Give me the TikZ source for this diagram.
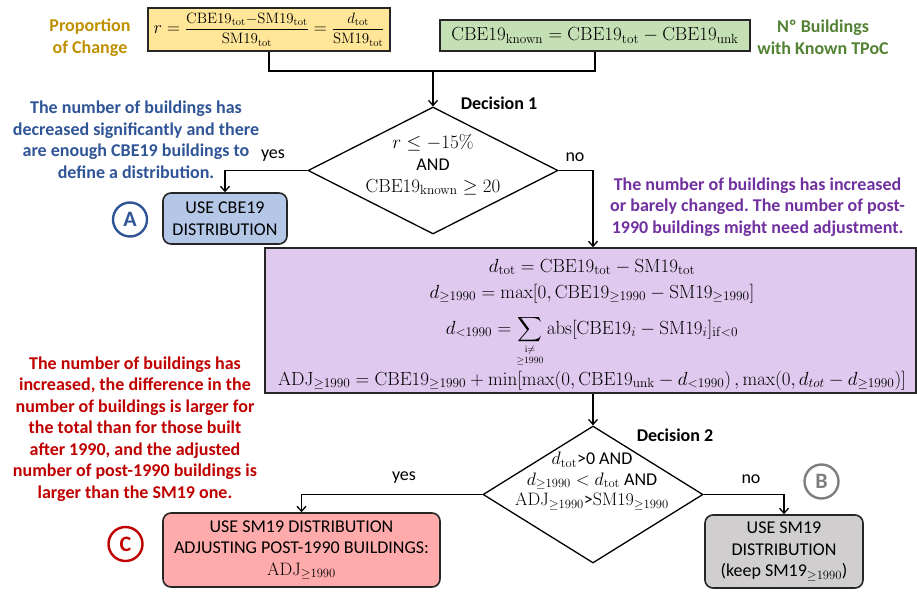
\RequirePackage{fix-cm}
\documentclass[tikz,border=0pt]{standalone}
\usepackage{amsmath}
\usepackage[no-math]{fontspec}
\setmainfont{Carlito}
\usetikzlibrary{shapes.geometric,arrows.meta}
\frenchspacing

\definecolor{boxline}{HTML}{262626}
\definecolor{goldtxt}{HTML}{BF9000}
\definecolor{ylwfill}{HTML}{FFE699}
\definecolor{grnfill}{HTML}{C5E0B4}
\definecolor{grntxt}{HTML}{548235}
\definecolor{bluefill}{HTML}{B4C7E7}
\definecolor{bluetxt}{HTML}{2F5597}
\definecolor{purpfill}{HTML}{DFC9EE}
\definecolor{purptxt}{HTML}{7030A0}
\definecolor{redfill}{HTML}{FFABAB}
\definecolor{redtxt}{HTML}{C00000}
\definecolor{greyfill}{HTML}{D0CECE}
\definecolor{greyring}{HTML}{7F7F7F}

% fraction set in display style at a reduced size
\newcommand{\smallfrac}[2]{\text{\fontsize{15}{17}\selectfont$\dfrac{#1}{#2}$}}

\begin{document}
\begin{tikzpicture}[x=1pt,y=-1pt,
  every node/.style={font=\fontsize{18}{21.5}\selectfont, inner sep=0pt},
  mathline/.style={font=\fontsize{19}{22}\selectfont},
  eqbox/.style={draw=boxline, line width=1.6pt, rectangle},
  outbox/.style={draw=boxline, line width=1.6pt, rounded corners=8pt, align=center},
  decision/.style={diamond, draw=black, line width=1.3pt, fill=white},
  ring/.style={circle, line width=2.4pt, minimum size=34pt, font=\fontsize{22}{24}\selectfont\bfseries},
  note/.style={align=center, font=\fontsize{18}{21.5}\selectfont\bfseries},
  flow/.style={line width=1.3pt, draw=black},
  flowarrow/.style={flow, -{Straight Barb[length=5pt,width=9pt]}},
]
\useasboundingbox (0,0) rectangle (917,591);

% ---- input quantities ----
\node[eqbox, fill=ylwfill, minimum width=242pt, minimum height=43pt] (rbox) at (269,29.5)
  {$r=\smallfrac{\mathrm{CBE19_{tot}}{-}\mathrm{SM19_{tot}}}{\mathrm{SM19_{tot}}}=\smallfrac{d_{\mathrm{tot}}}{\mathrm{SM19_{tot}}}$};
\node[eqbox, mathline, fill=grnfill, minimum width=310pt, minimum height=31pt] (kbox) at (595,35.5)
  {$\mathrm{CBE19_{known}}=\mathrm{CBE19_{tot}}-\mathrm{CBE19_{unk}}$};
\node[note, text=goldtxt] (rlabel) at (90,37.5) {Proportion\\of Change};
\node[note, text=grntxt] (klabel) at (823,37.5) {Nº Buildings\\with Known TPoC};

% ---- decision 1 ----
\node[decision, minimum width=250pt, minimum height=127pt] (d1) at (433,170.5) {};
\node[mathline] (d1a) at (433,143) {$r\leq-15\%$};
\node (d1b) at (433,165) {AND};
\node[mathline] (d1c) at (433,187) {$\mathrm{CBE19_{known}}\geq20$};
\node[font=\fontsize{18}{21.5}\selectfont\bfseries] (d1title) at (499,103) {Decision 1};

\coordinate (join) at (433,71);
\draw[flow] (rbox.south) |- (join) -| (kbox.south);
\draw[flowarrow] (join) -- (d1.north);

% ---- outcome A ----
\node[outbox, fill=bluefill, minimum width=124pt, minimum height=51pt] (boxA) at (225,218.5)
  {USE CBE19\\DISTRIBUTION};
\node[ring, draw=bluetxt, text=bluetxt] (ringA) at (130,219.5) {A};
\node[note, text=bluetxt] (noteA) at (136,140)
  {The number of buildings has\\decreased significantly and there\\are enough CBE19 buildings to\\define a distribution.};
\draw[flowarrow] (d1.west) -| (boxA.north);
\node (yes1) at (273,156) {yes};

% ---- adjustment quantities ----
\node[decision, minimum width=220pt, minimum height=137pt] (d2) at (593,494.5) {};
\node[eqbox, fill=purpfill, minimum width=651pt, minimum height=145pt] (adj) at (590.5,320.5) {};
\node[mathline, anchor=base] (eq1) at (592,272)
  {$d_{\mathrm{tot}}=\mathrm{CBE19_{tot}}-\mathrm{SM19_{tot}}$};
\node[mathline, anchor=base] (eq2) at (592,298)
  {$d_{\geq1990}=\max[0,\mathrm{CBE19}_{\geq1990}-\mathrm{SM19}_{\geq1990}]$};
\node[mathline, anchor=base] (eq3) at (592,334)
  {$d_{<1990}=\displaystyle\sum\limits_{\substack{\scriptscriptstyle\mathrm{i}\neq\\\scriptscriptstyle\geq1990}}\mathrm{abs}[\mathrm{CBE19}_{i}-\mathrm{SM19}_{i}]_{\mathrm{if}<0}$};
\node[mathline, anchor=base] (eq4) at (592,385)
  {$\mathrm{ADJ}_{\geq1990}=\mathrm{CBE19}_{\geq1990}+\min[\max(0,\mathrm{CBE19_{unk}}-d_{<1990})\,,\max(0,d_{tot}-d_{\geq1990})]$};
\node[note, text=purptxt] (noteAdj) at (757.5,207)
  {The number of buildings has increased\\or barely changed. The number of post-\\1990 buildings might need adjustment.};
\draw[flowarrow] (d1.east) -| (d2.north |- adj.north);
\node (no1) at (575,157) {no};

% ---- decision 2 ----
\draw[flowarrow] (d2.north |- adj.south) -- (d2.north);
\node (d2a) at (592,460) {$d_{\mathrm{tot}}$>0 AND};
\node (d2b) at (592,481) {$d_{\geq1990}<d_{\mathrm{tot}}$ AND};
\node (d2c) at (592,502) {$\mathrm{ADJ}_{\geq1990}$>$\mathrm{SM19}_{\geq1990}$};
\node[font=\fontsize{18}{21.5}\selectfont\bfseries] (d2title) at (675,435) {Decision 2};

% ---- outcome C ----
\node[outbox, fill=redfill, minimum width=277pt, minimum height=74pt] (boxC) at (301.5,550)
  {USE SM19 DISTRIBUTION\\ADJUSTING POST-1990 BUILDINGS:\\$\mathrm{ADJ}_{\geq1990}$};
\node[ring, draw=redtxt, text=redtxt] (ringC) at (125.5,544) {C};
\node[note, text=redtxt] (noteC) at (135,429)
  {The number of buildings has\\increased, the difference in the\\number of buildings is larger for\\the total than for those built\\after 1990, and the adjusted\\number of post-1990 buildings is\\larger than the SM19 one.};
\draw[flowarrow] (d2.west) -| (boxC.north);
\node (yes2) at (404,478) {yes};

% ---- outcome B ----
\node[outbox, fill=greyfill, minimum width=158pt, minimum height=73pt] (boxB) at (784,551.5)
  {USE SM19\\DISTRIBUTION\\(keep SM19$_{\geq1990}$)};
\node[ring, draw=greyring, text=greyring] (ringB) at (821.5,481.5) {B};
\draw[flowarrow] (d2.east) -| (boxB.north);
\node (no2) at (751,479) {no};
\end{tikzpicture}
\end{document}
